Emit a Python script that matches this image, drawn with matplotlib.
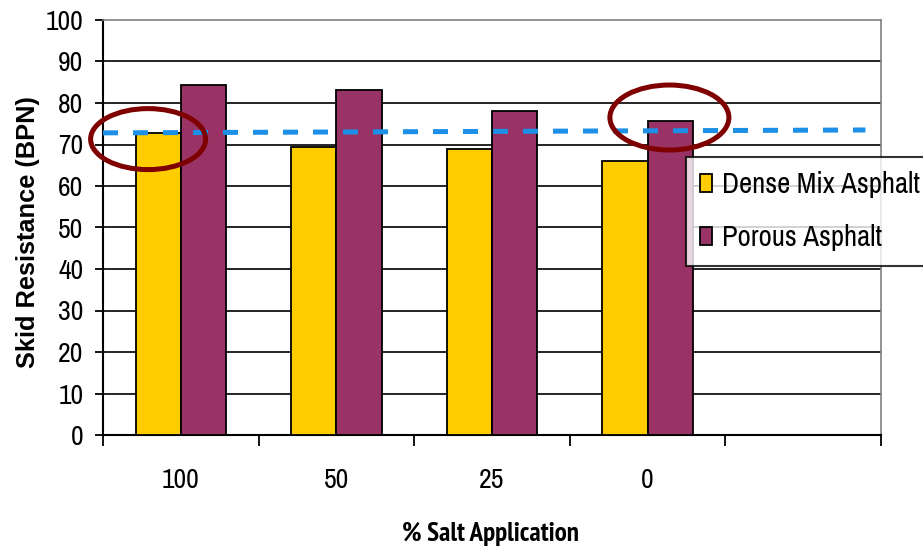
import matplotlib
matplotlib.use("Agg")
import matplotlib.pyplot as plt
from matplotlib.patches import Ellipse
from matplotlib import font_manager
from matplotlib.font_manager import FontProperties

categories = ["100", "50", "25", "0"]
dense_mix = [72.7, 69.3, 68.9, 66.1]
porous = [84.3, 83.1, 78.1, 75.7]
trend_x = [-0.5, 4.4]
trend_y = [72.8, 73.5]
series_names = ["Dense Mix Asphalt", "Porous Asphalt"]
xlabel = "% Salt Application"
ylabel = "Skid Resistance (BPN)"

weights = {}
for f in font_manager.fontManager.ttflist:
    w = f.weight if isinstance(f.weight, int) else 400
    weights.setdefault(f.name, set()).add(w)

cands = ["Liberation Sans Narrow", "Arial Narrow", "Archivo Narrow", "PT Sans Narrow",
         "Roboto Condensed", "Sofia Sans Condensed", "Asap Condensed"]
narrow = "Liberation Sans"
narrow_bold = "Liberation Sans"
for cand in cands:
    if cand in weights:
        narrow = cand
        break
for cand in cands:
    if cand in weights and any(w >= 600 for w in weights[cand]):
        narrow_bold = cand
        break

W, H = 923, 551
fig = plt.figure(figsize=(W / 100, H / 100), dpi=100)
renderer = fig.canvas.get_renderer()


def fit_size(s, family, weight, target_px, base=20.0):
    fp = FontProperties(family=family, weight=weight, size=base)
    w, h, d = renderer.get_text_width_height_descent(s, fp, ismath=False)
    return base * target_px / w


tick_size = fit_size("100", narrow, "normal", 38)
leg_size = fit_size(series_names[0], narrow, "normal", 198)
xlab_size = fit_size(xlabel, narrow_bold, "bold", 177)
ylab_size = fit_size(ylabel, "Liberation Sans", "bold", 272)

ax = fig.add_axes([103 / W, 1 - 435 / H, (881 - 103) / W, (435 - 20) / H])

n_slots = len(categories) + 1
bw = 0.29
xs = list(range(len(categories)))
ax.bar([x - bw / 2 for x in xs], dense_mix, width=bw, color="#FFCC00",
       edgecolor="black", linewidth=1.3, zorder=3, label=series_names[0])
ax.bar([x + bw / 2 for x in xs], porous, width=bw, color="#993366",
       edgecolor="black", linewidth=1.3, zorder=3, label=series_names[1])

ax.plot(trend_x, trend_y, color="#1C8FE6", lw=3.6, dashes=(3, 3), zorder=4,
        dash_capstyle="butt")

ax.set_xlim(-0.5, n_slots - 0.5)
ax.set_ylim(0, 100)
ax.set_yticks(range(0, 101, 10))
for y in range(10, 100, 10):
    ax.axhline(y, color="black", lw=1.2, zorder=1)

ax.set_xticks([i - 0.5 for i in range(n_slots + 1)])
ax.set_xticklabels([])
ax.set_xticks(xs, minor=True)
ax.set_xticklabels(categories, minor=True)
ax.tick_params(axis="x", which="major", direction="out", length=8, width=1.3, color="black")
ax.tick_params(axis="x", which="minor", length=0, pad=24, labelsize=tick_size)
ax.tick_params(axis="y", direction="out", length=6, width=1.3, pad=8, labelsize=tick_size)
for lab in ax.get_xticklabels(minor=True) + ax.get_yticklabels():
    lab.set_fontfamily(narrow)

for side in ["left", "bottom"]:
    ax.spines[side].set_color("black")
    ax.spines[side].set_linewidth(1.5)
for side in ["top", "right"]:
    ax.spines[side].set_color("#808080")
    ax.spines[side].set_linewidth(1.2)

e1 = Ellipse((-0.21, 71.3), width=115 / 155.6, height=61 / 4.15, fill=False,
             edgecolor="#7F0000", lw=3.6, zorder=6, clip_on=False)
e2 = Ellipse((3.14, 76.5), width=119 / 155.6, height=65 / 4.15, fill=False,
             edgecolor="#7F0000", lw=3.6, zorder=6, clip_on=False)
ax.add_patch(e1)
ax.add_patch(e2)

leg = ax.legend(loc="upper left", bbox_to_anchor=(686 / W, 1 - 157 / H),
                bbox_transform=fig.transFigure, borderaxespad=0,
                prop={"family": narrow, "size": leg_size}, frameon=True, fancybox=False,
                shadow=False, handlelength=0.4, handleheight=0.6, handletextpad=0.35,
                labelspacing=0.9, borderpad=0.5)
leg.get_frame().set_edgecolor("black")
leg.get_frame().set_linewidth(1.5)
leg.set_zorder(5)

fig.text(28 / W, 1 - 232 / H, ylabel, rotation=90, ha="center",
         va="center", fontsize=ylab_size, fontweight="bold", family="Liberation Sans")
fig.text(490 / W, 1 - 534 / H, xlabel, ha="center", va="center",
         fontsize=xlab_size, fontweight="bold", family=narrow_bold)

fig.savefig("out.png", dpi=100)
